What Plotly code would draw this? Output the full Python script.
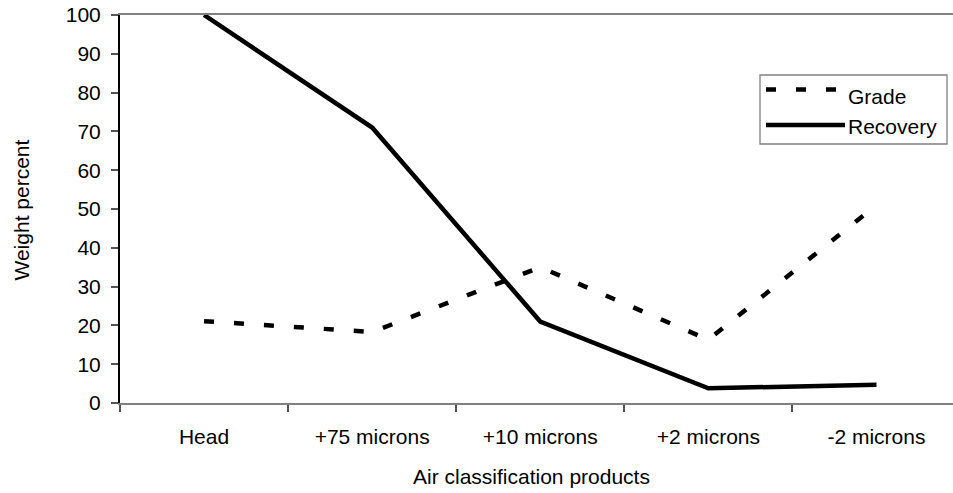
import plotly.graph_objects as go

categories = ["Head", "+75 microns", "+10 microns", "+2 microns", "-2 microns"]
grade = [21.1, 18.3, 35.0, 16.3, 51.0]
recovery = [100.0, 71.0, 21.0, 3.8, 4.7]
series_names = ["Grade", "Recovery"]
y_ticks = list(range(0, 101, 10))

FONT = "Liberation Sans, Arial, sans-serif"
FS = 21
W, H = 953, 493
L, T, B, R = 120, 15, 90, 0
pw, ph = W - L - R, H - T - B

def px(x):
    return (x - L) / pw

def py(y):
    return (H - B - y) / ph

fig = go.Figure()
fig.add_trace(go.Scatter(x=categories, y=grade, mode="lines", name=series_names[0],
                         line=dict(color="black", width=4.5, dash="10px,20px"),
                         showlegend=False, cliponaxis=True))
fig.add_trace(go.Scatter(x=categories, y=recovery, mode="lines", name=series_names[1],
                         line=dict(color="black", width=4.5),
                         showlegend=False, cliponaxis=True))

# legend box (manual)
shapes = [
    dict(type="rect", xref="paper", yref="paper", x0=px(760), x1=px(947), y0=py(144), y1=py(75),
         line=dict(color="#808080", width=1.3), fillcolor="white", layer="above"),
    dict(type="line", xref="paper", yref="paper", x0=px(766), x1=px(845), y0=py(89.5), y1=py(89.5),
         line=dict(color="black", width=4.5, dash="10px,20px"), layer="above"),
    dict(type="line", xref="paper", yref="paper", x0=px(766), x1=px(845), y0=py(125), y1=py(125),
         line=dict(color="black", width=4.5), layer="above"),
]
annotations = [
    dict(text=series_names[0], xref="paper", yref="paper", x=px(846), y=py(96), xanchor="left",
         yanchor="middle", showarrow=False, font=dict(family=FONT, size=FS, color="black")),
    dict(text=series_names[1], xref="paper", yref="paper", x=px(846), y=py(126), xanchor="left",
         yanchor="middle", showarrow=False, font=dict(family=FONT, size=FS, color="black")),
    dict(text="Weight percent", xref="paper", yref="paper", x=px(20.5), y=py(210), textangle=-90,
         xanchor="center", yanchor="middle", showarrow=False,
         font=dict(family=FONT, size=FS, color="black")),
    dict(text="Air classification products", xref="paper", yref="paper", x=px(531), y=py(476.5),
         xanchor="center", yanchor="middle", showarrow=False,
         font=dict(family=FONT, size=FS, color="black")),
]

fig.update_layout(
    width=W, height=H,
    margin=dict(l=L, r=R, t=T, b=B, pad=0),
    paper_bgcolor="white", plot_bgcolor="white",
    font=dict(family=FONT, size=FS, color="black"),
    shapes=shapes, annotations=annotations,
    xaxis=dict(type="category", range=[-0.5, -0.5 + pw / 168.1], tickson="boundaries",
               ticks="outside", ticklen=7, tickwidth=1.5, tickcolor="#555555",
               showline=True, linecolor="#808080", linewidth=2, mirror=True,
               showgrid=False, zeroline=False, ticklabelstandoff=14,
               tickfont=dict(family=FONT, size=FS, color="black")),
    yaxis=dict(range=[0, 100], tickvals=y_ticks, ticks="outside", ticklen=7, tickwidth=1.5,
               tickcolor="#555555", showline=True, linecolor="black", linewidth=2,
               showgrid=False, zeroline=False, ticklabelstandoff=6,
               tickfont=dict(family=FONT, size=FS, color="black")),
)

fig.write_html("out.html")
